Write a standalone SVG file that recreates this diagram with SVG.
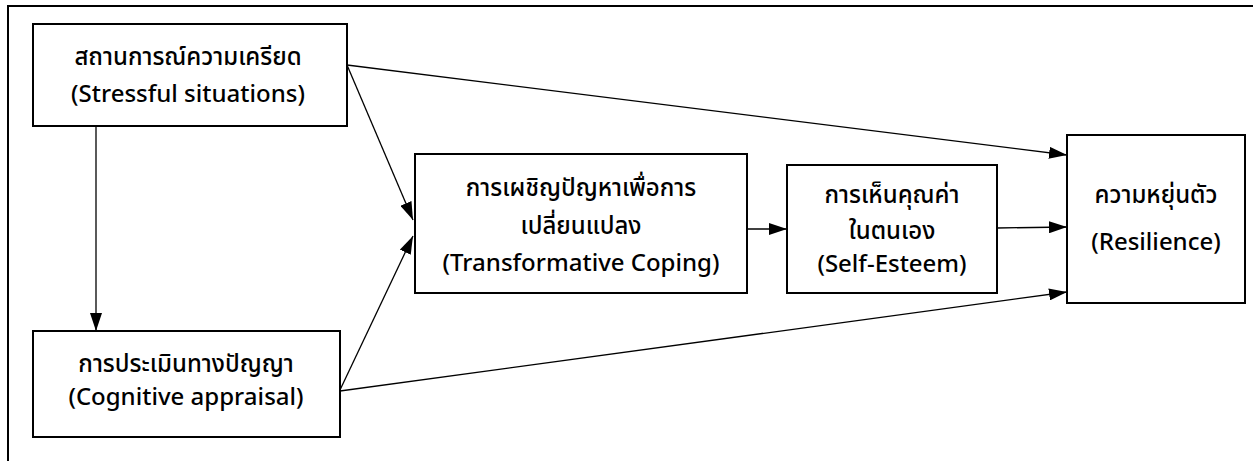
<svg xmlns="http://www.w3.org/2000/svg" width="1253" height="461" viewBox="0 0 1253 461">
<style>
.box{fill:#fff;stroke:#000;stroke-width:2}
.t{font-family:"Noto Sans Thai","Noto Sans","DejaVu Sans",sans-serif;font-size:24px;font-weight:500;fill:#000;text-anchor:middle}
.c{stroke:#000;stroke-width:1.3;fill:none;marker-end:url(#ah)}
</style>
<defs>
<marker id="ah" viewBox="0 0 18 12" refX="18" refY="6" markerWidth="18" markerHeight="12" markerUnits="userSpaceOnUse" orient="auto">
<path d="M0,0 L18,6 L0,12 Z" fill="#000"/>
</marker>
</defs>
<rect width="1253" height="461" fill="#fff"/>
<path d="M8,461 L8,6 L1253,6" fill="none" stroke="#000" stroke-width="2"/>
<g id="connectors">
<line class="c" x1="96" y1="126" x2="96" y2="331"/>
<line class="c" x1="347" y1="65" x2="413" y2="220"/>
<line class="c" x1="340" y1="390" x2="413" y2="236"/>
<line class="c" x1="347" y1="65" x2="1067" y2="155"/>
<line class="c" x1="340" y1="391" x2="1067" y2="292"/>
<line class="c" x1="747" y1="229" x2="787" y2="229"/>
<line class="c" x1="997" y1="228" x2="1067" y2="227"/>
</g>
<g id="n1">
<rect class="box" x="33" y="24" width="314" height="102"/>
<text class="t" x="188" y="65">สถานการณ์ความเครียด</text>
<text class="t" x="188" y="102">(Stressful situations)</text>
</g>
<g id="n2">
<rect class="box" x="33" y="331" width="307" height="106"/>
<text class="t" x="186" y="372">การประเมินทางปัญญา</text>
<text class="t" x="186" y="405">(Cognitive appraisal)</text>
</g>
<g id="n3">
<rect class="box" x="415" y="154" width="332" height="139"/>
<text class="t" x="581" y="196">การเผชิญปัญหาเพื่อการ</text>
<text class="t" x="581" y="234">เปลี่ยนแปลง</text>
<text class="t" x="581" y="271">(Transformative Coping)</text>
</g>
<g id="n4">
<rect class="box" x="787" y="165" width="210" height="128"/>
<text class="t" x="892" y="203">การเห็นคุณค่า</text>
<text class="t" x="892" y="239">ในตนเอง</text>
<text class="t" x="892" y="272">(Self-Esteem)</text>
</g>
<g id="n5">
<rect class="box" x="1067" y="135" width="178" height="168"/>
<text class="t" x="1156" y="203">ความหยุ่นตัว</text>
<text class="t" x="1156" y="250">(Resilience)</text>
</g>
</svg>
